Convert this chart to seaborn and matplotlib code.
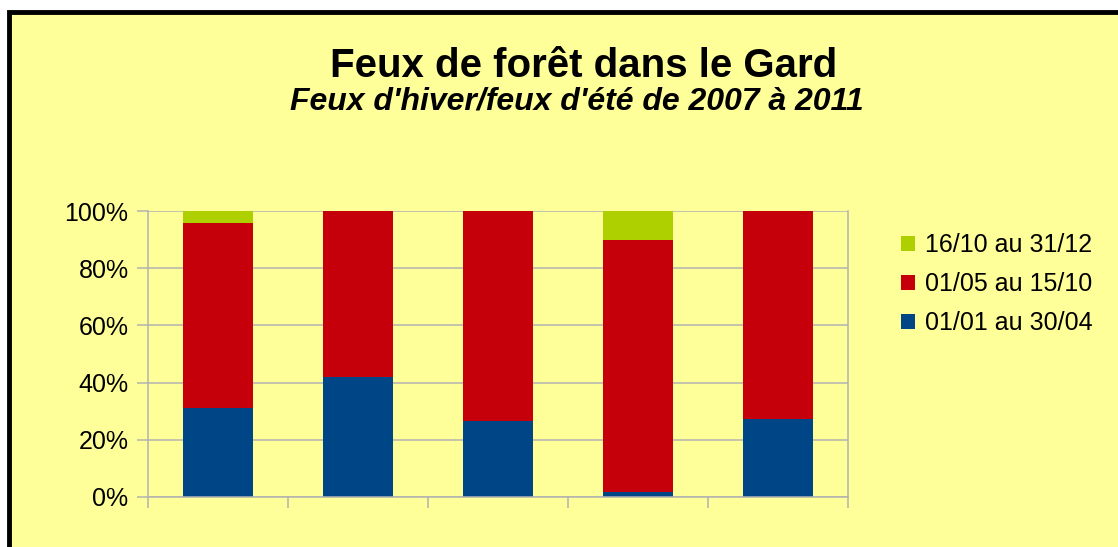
import numpy as np
import pandas as pd
import seaborn as sns
import matplotlib.pyplot as plt
from matplotlib.patches import Patch, Rectangle

# données (parts en %)
annees = ["2007", "2008", "2009", "2010", "2011"]
hiver = [31.2, 41.8, 26.6, 1.9, 27.3]        # 01/01 au 30/04
ete = [64.6, 58.2, 73.4, 88.0, 72.7]         # 01/05 au 15/10
automne = [4.2, 0.0, 0.0, 10.1, 0.0]         # 16/10 au 31/12
series = ["01/01 au 30/04", "01/05 au 15/10", "16/10 au 31/12"]
couleurs = ["#004586", "#C5000B", "#AECF00"]

sns.set_style("white")
plt.rcParams["font.family"] = ["Liberation Sans", "DejaVu Sans"]
plt.rcParams["text.color"] = "black"
plt.rcParams["ytick.labelcolor"] = "black"

df = pd.DataFrame({"annee": annees, "hiver": hiver, "ete": ete, "automne": automne})
df["c1"] = df["hiver"]
df["c2"] = df["hiver"] + df["ete"]
df["c3"] = df["c2"] + df["automne"]

fig = plt.figure(figsize=(11.18, 5.47), dpi=100, facecolor="white")
# cadre jaune à bord noir
fig.patches.append(Rectangle((8.5 / 1118, -0.1), 1.2, 1 - 12 / 547 + 0.1,
                             transform=fig.transFigure, facecolor="#FFFF99",
                             edgecolor="black", linewidth=3.5, zorder=-10))

ax = fig.add_axes([148 / 1118, 1 - 497 / 547, 700 / 1118, 286 / 547])
ax.set_facecolor("#FFFF99")

# barres empilées : on dessine les cumuls de l'arrière vers l'avant
for col, c in zip(["c3", "c2", "c1"], couleurs[::-1]):
    sns.barplot(data=df, x="annee", y=col, color=c, width=0.5,
                saturation=1, linewidth=0, ax=ax)

ax.set_xlim(-0.5, 4.5)
ax.set_ylim(0, 100)
ax.set_yticks(np.arange(0, 101, 20))
ax.set_yticklabels([f"{v}%" for v in range(0, 101, 20)], fontsize=18, color="black")
ax.set_xticks([])
ax.set_xticks(np.arange(-0.5, 4.6, 1), minor=True)
ax.set_xlabel("")
ax.set_ylabel("")
ax.yaxis.grid(True, color="#b3b3b3", linewidth=1.1)
ax.set_axisbelow(True)
ax.tick_params(axis="y", which="major", left=True, length=8, width=1.1,
               color="#b3b3b3", pad=6)
ax.tick_params(axis="x", which="minor", bottom=True, length=8, width=1.1,
               color="#b3b3b3")
for side in ["left", "bottom", "right"]:
    ax.spines[side].set_color("#b3b3b3")
    ax.spines[side].set_linewidth(1.1)
ax.spines["top"].set_visible(False)

fig.text(584 / 1118, 1 - 77 / 547, "Feux de forêt dans le Gard",
         ha="center", va="baseline", fontsize=29, fontweight="bold", color="black")
fig.text(577 / 1118, 1 - 110 / 547, "Feux d'hiver/feux d'été de 2007 à 2011",
         ha="center", va="baseline", fontsize=23, fontweight="bold", style="italic",
         color="black")

handles = [Patch(facecolor=couleurs[i], edgecolor="none", label=series[i]) for i in [2, 1, 0]]
fig.legend(handles=handles, loc="upper left", bbox_to_anchor=(896 / 1118, 1 - 228 / 547),
           frameon=False, fontsize=18, handlelength=0.55, handleheight=0.55,
           handletextpad=0.4, labelspacing=0.6, borderaxespad=0, borderpad=0.2,
           labelcolor="black")

fig.savefig("out.png", dpi=100, facecolor=fig.get_facecolor())
